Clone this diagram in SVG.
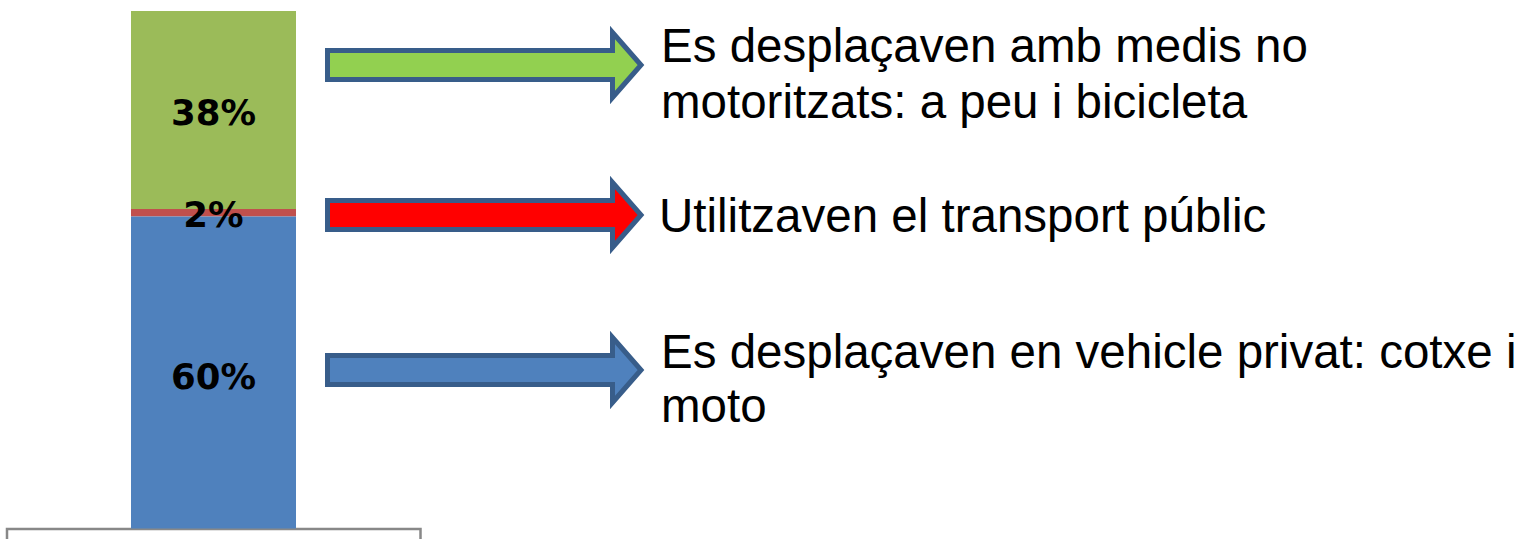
<svg xmlns="http://www.w3.org/2000/svg" width="1528" height="539" viewBox="0 0 1528 539">
<style>
.pct{font-family:"DejaVu Sans",Verdana,sans-serif;font-weight:bold;font-size:35.5px;fill:#000;text-anchor:middle}
.lbl{font-family:"Liberation Sans",Arial,sans-serif;font-size:47.5px;fill:#000}
.arrow{stroke:#385D8A;stroke-width:5;stroke-linejoin:miter}
</style>
<defs>
<path id="arr" d="M327.5,-14.5 H612.5 V-32.5 L641,0 L612.5,32.5 V14.5 H327.5 Z"/>
</defs>
<rect width="1528" height="539" fill="#fff"/>
<g id="axis-box">
<path d="M7,539 V529 H420.5 V539" fill="none" stroke="#888" stroke-width="2.5"/>
</g>
<g id="bar">
<rect x="131" y="11" width="165" height="198" fill="#9BBB59"/>
<rect x="131" y="209" width="165" height="7.5" fill="#C0504D"/>
<rect x="131" y="216.5" width="165" height="312" fill="#4F81BD"/>
<text class="pct" x="213.5" y="124.5">38%</text>
<text class="pct" x="213.5" y="226.5">2%</text>
<text class="pct" x="213.5" y="388.5">60%</text>
</g>
<g id="connectors">
<use href="#arr" class="arrow" fill="#92D050" transform="translate(0,65)"/>
<use href="#arr" class="arrow" fill="#FF0000" transform="translate(0,215)"/>
<use href="#arr" class="arrow" fill="#4F81BD" transform="translate(0,370)"/>
</g>
<g id="label-green">
<text class="lbl" x="661" y="62">Es desplaçaven amb medis no</text>
<text class="lbl" x="661" y="118">motoritzats: a peu i bicicleta</text>
</g>
<g id="label-red">
<text class="lbl" x="659" y="232">Utilitzaven el transport públic</text>
</g>
<g id="label-blue">
<text class="lbl" x="661" y="368">Es desplaçaven en vehicle privat: cotxe i</text>
<text class="lbl" x="661" y="422">moto</text>
</g>
</svg>
